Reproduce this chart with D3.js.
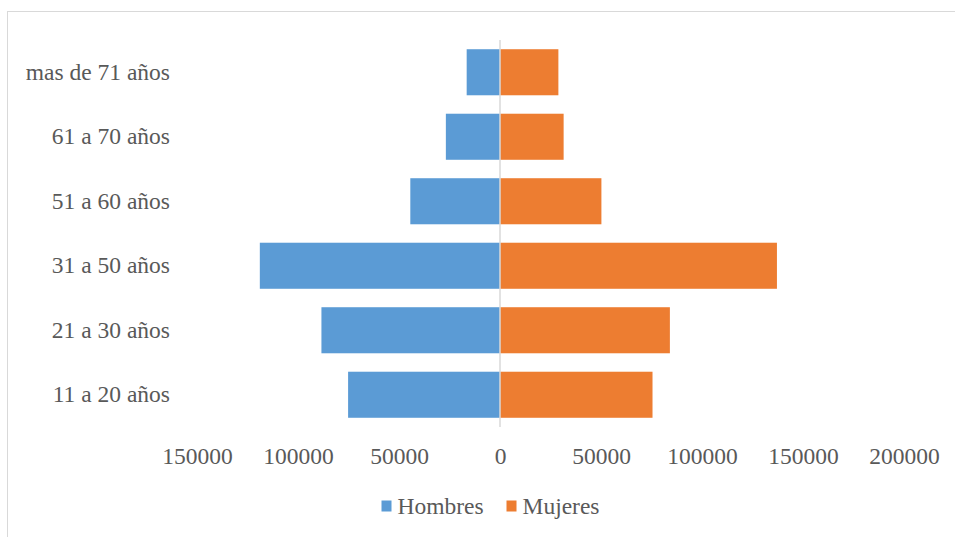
<!DOCTYPE html>
<html>
<head>
<meta charset="utf-8">
<script src="https://cdn.jsdelivr.net/npm/d3@7"></script>
<style>
  html, body { margin: 0; padding: 0; background: #fff; }
  svg { display: block; }
  text { font-family: "Liberation Serif", "Times New Roman", serif; fill: #595959; }
</style>
</head>
<body>
<svg id="chart" width="955" height="537"></svg>
<script>
const categories = ["mas de 71 años", "61 a 70 años", "51 a 60 años", "31 a 50 años", "21 a 30 años", "11 a 20 años"];
const hombres = [16500, 26800, 44400, 118900, 88400, 75200];
const mujeres = [28900, 31500, 50200, 137100, 84100, 75500];
const tickValues = [-150000, -100000, -50000, 0, 50000, 100000, 150000, 200000];
const seriesNames = ["Hombres", "Mujeres"];
const seriesColors = ["#5B9BD5", "#ED7D31"];

const svg = d3.select("#chart");
const W = 955, H = 537;
const fontSize = "23.5px";

// chart border
svg.append("rect")
  .attr("x", 7.5).attr("y", 11.5)
  .attr("width", W + 10).attr("height", H + 10)
  .attr("fill", "#fff").attr("stroke", "#d9d9d9").attr("stroke-width", 1);

const x = d3.scaleLinear().domain([-150000, 200000]).range([197, 904]);
const y = d3.scaleBand().domain(categories).range([40, 427]).paddingInner(0.286).paddingOuter(0.143);

const rows = categories.map((c, i) => ({ c, h: hombres[i], m: mujeres[i] }));

// Hombres bars (left, negative)
svg.append("g").selectAll("rect").data(rows).join("rect")
  .attr("x", d => x(-d.h))
  .attr("y", d => y(d.c))
  .attr("width", d => x(0) - x(-d.h))
  .attr("height", y.bandwidth())
  .attr("fill", seriesColors[0]);

// Mujeres bars (right)
svg.append("g").selectAll("rect").data(rows).join("rect")
  .attr("x", x(0))
  .attr("y", d => y(d.c))
  .attr("width", d => x(d.m) - x(0))
  .attr("height", y.bandwidth())
  .attr("fill", seriesColors[1]);

// vertical axis line at zero
svg.append("line")
  .attr("x1", x(0)).attr("x2", x(0))
  .attr("y1", 40).attr("y2", 427)
  .attr("stroke", "#d9d9d9").attr("stroke-width", 1.5);

// category labels
const yAxis = d3.axisLeft(y).tickSize(0).tickPadding(0);
const gy = svg.append("g").attr("transform", "translate(170,0)").call(yAxis);
gy.select(".domain").remove();
gy.selectAll("text")
  .style("font-size", fontSize)
  .style("font-family", '"Liberation Serif", "Times New Roman", serif')
  .attr("fill", "#595959")
  .attr("dy", "0.32em");

// x tick labels
const xAxis = d3.axisBottom(x).tickValues(tickValues).tickSize(0).tickPadding(0)
  .tickFormat(d => String(Math.abs(d)));
const gx = svg.append("g").attr("transform", "translate(0,447)").call(xAxis);
gx.select(".domain").remove();
gx.selectAll("text")
  .style("font-size", fontSize)
  .style("font-family", '"Liberation Serif", "Times New Roman", serif')
  .attr("fill", "#595959")
  .attr("dy", "0.71em")
  .attr("y", 0);

// legend
const legendX = [381.5, 506.5];
const leg = svg.append("g");
seriesNames.forEach((name, i) => {
  leg.append("rect")
    .attr("x", legendX[i]).attr("y", 500.5)
    .attr("width", 10).attr("height", 11)
    .attr("fill", seriesColors[i]);
  leg.append("text")
    .attr("x", legendX[i] + 16).attr("y", 514)
    .style("font-size", fontSize)
    .text(name);
});
</script>
</body>
</html>
